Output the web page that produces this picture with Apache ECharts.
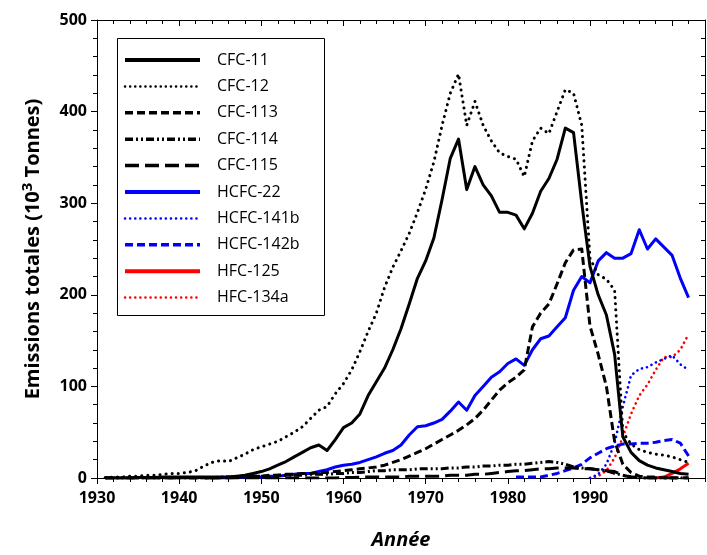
<!DOCTYPE html>
<html><head><meta charset="utf-8">
<script src="https://cdn.jsdelivr.net/npm/echarts@6/dist/echarts.min.js"></script>
<style>html,body{margin:0;padding:0;background:#fff}#c{width:707px;height:555px}</style>
</head><body><div id="c"></div>
<script>
const _ = null;
// Years (x categories), 1931..2002
const years = [
 1931,1932,1933,1934,1935,1936,1937,1938,1939,1940,
 1941,1942,1943,1944,1945,1946,1947,1948,1949,1950,
 1951,1952,1953,1954,1955,1956,1957,1958,1959,1960,
 1961,1962,1963,1964,1965,1966,1967,1968,1969,1970,
 1971,1972,1973,1974,1975,1976,1977,1978,1979,1980,
 1981,1982,1983,1984,1985,1986,1987,1988,1989,1990,
 1991,1992,1993,1994,1995,1996,1997,1998,1999,2000,
 2001,2002];

const cfc11 = [
 0,0,0,0,0.5,0.5,0.5,1,1,1,
 1,1,1,1,1,1,2,3,5,7,
 10,14,18,23,28,33,36,30,42,55,
 60,70,90,105,120,140,163,190,218,237,
 262,304,349,370,315,340,320,308,290,290,
 287,272,289,313,327,348,382,377,300,231,
 200,178,135,45,28,19,14,11,9,7,
 5,4];
const cfc12 = [
 0.5,1,1,2,2,3,3,4,5,5,
 6,8,13,17,19,18,22,26,31,34,
 37,40,45,50,56,65,74,78,92,103,
 118,138,160,180,208,230,248,267,290,315,
 345,385,420,441,385,411,385,368,355,351,
 348,329,368,382,376,400,424,420,385,240,
 222,217,205,50,37,31,28,26,25,23,
 20,17];
const cfc113 = [
 0,0,0,0,0,0,0,0,0,0,
 0,0,0,0,0,1,1,1,2,2,
 3,3,4,4,5,5,6,6,7,8,
 9,10,11,12,14,17,20,24,28,32,
 37,42,47,52,58,65,74,85,96,104,
 110,118,165,180,190,212,235,249,250,166,
 135,100,40,15,6,2,1,1,0,0,
 0,0];
const cfc114 = [
 0,0,0,0,0,0,0,0,0,0,
 0,0,0,0,1,1,1,2,2,2,
 2,3,3,3,3,4,4,4,5,5,
 6,6,7,8,8,9,9,9,10,10,
 10,10,11,11,12,12,13,13,14,14,
 15,15,16,17,18,17,15,12,11,10,
 9,8,5,3,1,0,0,0,0,0,
 0,0];
const cfc115 = [
 0,0,0,0,0,0,0,0,0,0,
 0,0,0,0,0,0,0,0,0,0,
 0,0,0,0,0,0,0,0,0,0.5,
 0.5,1,1,1,1,1,1,2,2,2,
 2,2,3,3,3,4,4,5,6,7,
 8,8,9,10,10,11,11,11,10,10,
 9,8,7,3,1,0,0,0,0,0,
 0,0];
const hcfc22 = [
 _,_,_,_,_,_,_,_,_,_,
 _,_,0,0,0,0,0.5,0.5,1,1,
 2,2,3,4,5,5,7,9,12,14,
 15,17,20,23,27,30,36,47,56,57,
 60,64,73,83,74,90,100,110,116,125,
 130,123,140,152,155,165,175,205,220,213,
 237,246,240,240,245,271,250,261,252,243,
 218,197];
const hcfc141b = [
 _,_,_,_,_,_,_,_,_,_,
 _,_,_,_,_,_,_,_,_,_,
 _,_,_,_,_,_,_,_,_,_,
 _,_,_,_,_,_,_,_,_,_,
 _,_,_,_,_,_,_,_,_,_,
 _,_,_,_,_,_,_,_,_,0,
 4,15,38,78,112,119,121,126,130,134,
 124,118];
const hcfc142b = [
 _,_,_,_,_,_,_,_,_,_,
 _,_,_,_,_,_,_,_,_,_,
 _,_,_,_,_,_,_,_,_,_,
 _,_,_,_,_,_,_,_,_,_,
 _,_,_,_,_,_,_,_,_,_,
 1,1,1,1,3,5,8,11,15,22,
 27,32,35,37,37,38,38,39,41,42,
 38,24];
const hfc125 = [
 _,_,_,_,_,_,_,_,_,_,
 _,_,_,_,_,_,_,_,_,_,
 _,_,_,_,_,_,_,_,_,_,
 _,_,_,_,_,_,_,_,_,_,
 _,_,_,_,_,_,_,_,_,_,
 _,_,_,_,_,_,_,_,_,_,
 _,_,_,_,_,_,0,0,1,5,
 10,16];
const hfc134a = [
 _,_,_,_,_,_,_,_,_,_,
 _,_,_,_,_,_,_,_,_,_,
 _,_,_,_,_,_,_,_,_,_,
 _,_,_,_,_,_,_,_,_,_,
 _,_,_,_,_,_,_,_,_,_,
 _,_,_,_,_,_,_,_,_,0,
 2,8,22,45,70,90,102,118,132,132,
 140,157];

const xTicks = [1930,1940,1950,1960,1970,1980,1990,2000];

const FONT = 'Open Sans';
const BLACK = '#000000', BLUE = '#0000ff', RED = '#ff0000';
const DOT = [0.1, 6], DOTS = [0.1, 5], DASH = [8, 4], LDASH = [14, 6], DDD = [8, 3, 2, 3, 2, 3];

const defs = [
 {name:'CFC-11',    values:cfc11,    color:BLACK, width:3,   dash:'solid', cap:'butt',  lw:4},
 {name:'CFC-12',    values:cfc12,    color:BLACK, width:3,   dash:DOT,     cap:'round', lw:2.5, ldash:[0.1,5]},
 {name:'CFC-113',   values:cfc113,   color:BLACK, width:3,   dash:DASH,    cap:'butt',  lw:3.5},
 {name:'CFC-114',   values:cfc114,   color:BLACK, width:3,   dash:DDD,     cap:'butt',  lw:3.5},
 {name:'CFC-115',   values:cfc115,   color:BLACK, width:3,   dash:LDASH,   cap:'butt',  lw:3.5},
 {name:'HCFC-22',   values:hcfc22,   color:BLUE,  width:3,   dash:'solid', cap:'butt',  lw:4},
 {name:'HCFC-141b', values:hcfc141b, color:BLUE,  width:2.6, dash:DOTS,    cap:'round', lw:2.5, ldash:[0.1,5]},
 {name:'HCFC-142b', values:hcfc142b, color:BLUE,  width:3,   dash:DASH,    cap:'butt',  lw:3.5},
 {name:'HFC-125',   values:hfc125,   color:RED,   width:3,   dash:'solid', cap:'butt',  lw:4},
 {name:'HFC-134a',  values:hfc134a,  color:RED,   width:2.6, dash:DOTS,    cap:'round', lw:2.5, ldash:[0.1,5]}
];

const chart = echarts.init(document.getElementById('c'), null, {renderer:'canvas'});

const lblStyle = {fontFamily:FONT, fontWeight:'bold', fontSize:16, color:'#000'};
const lineBlack = {color:'#000', width:1};
const plain = v => String(v);

const option = {
  animation:false,
  backgroundColor:'#fff',
  grid:{left:97, right:2, top:20, bottom:76, containLabel:false},
  graphic:[{type:'rect', z:3, shape:{x:117.5, y:38.5, width:207, height:277},
            style:{fill:'#fff', stroke:'#000', lineWidth:1}}],
  legend:{
    orient:'vertical', left:123, top:52, padding:0, z:5,
    itemWidth:75, itemHeight:14, itemGap:10.4,
    textStyle:{fontFamily:FONT, fontSize:16, color:'#000', padding:[0,0,0,12]},
    itemStyle:{opacity:0},
    data: defs.map(d => ({name:d.name, lineStyle:{color:d.color, width:d.lw, type:d.ldash || d.dash, cap:d.cap, opacity:1}}))
  },
  xAxis:[
    {type:'value', min:1930, max:2004, interval:10, position:'bottom',
     axisLine:{show:true, onZero:false, lineStyle:lineBlack},
     axisTick:{show:true, inside:false, length:6, lineStyle:lineBlack, customValues:xTicks},
     splitLine:{show:false},
     axisLabel:Object.assign({margin:12, showMaxLabel:false, customValues:xTicks, formatter:plain}, lblStyle),
     name:'Année', nameLocation:'middle', nameGap:52,
     nameTextStyle:{fontFamily:FONT, fontSize:20, fontWeight:'bold', fontStyle:'italic', color:'#000'}},
    {type:'value', min:1930, max:2004, interval:2, position:'bottom',
     axisLine:{show:false, onZero:false}, axisLabel:{show:false}, splitLine:{show:false},
     axisTick:{show:true, inside:false, length:4, lineStyle:lineBlack}},
    {type:'value', min:1930, max:2004, interval:10, position:'top',
     axisLine:{show:true, onZero:false, lineStyle:lineBlack}, axisLabel:{show:false}, splitLine:{show:false},
     axisTick:{show:true, inside:true, length:6, lineStyle:lineBlack, customValues:xTicks}},
    {type:'value', min:1930, max:2004, interval:2, position:'top',
     axisLine:{show:false, onZero:false}, axisLabel:{show:false}, splitLine:{show:false},
     axisTick:{show:true, inside:true, length:4, lineStyle:lineBlack}}
  ],
  yAxis:[
    {type:'value', min:0, max:500, interval:100, position:'left',
     axisLine:{show:true, onZero:false, lineStyle:lineBlack},
     axisTick:{show:true, inside:false, length:6, lineStyle:lineBlack},
     minorTick:{show:true, splitNumber:5, length:4, lineStyle:lineBlack},
     splitLine:{show:false},
     axisLabel:Object.assign({margin:10, formatter:plain}, lblStyle),
     name:'{a|Emissions totales (10}{s|3}{a| Tonnes)}', nameLocation:'middle', nameGap:50, nameRotate:90,
     nameTextStyle:{color:'#000', rich:{
        a:{fontFamily:FONT, fontSize:20, fontWeight:'bold', color:'#000'},
        s:{fontFamily:FONT, fontSize:15, fontWeight:'bold', color:'#000', padding:[0,0,12,0]}}}},
    {type:'value', min:0, max:500, interval:100, position:'right',
     axisLine:{show:true, onZero:false, lineStyle:lineBlack},
     axisTick:{show:true, inside:true, length:6, lineStyle:lineBlack},
     minorTick:{show:true, splitNumber:5, length:4, lineStyle:lineBlack},
     splitLine:{show:false}, axisLabel:{show:false}}
  ],
  series: defs.map((d, k) => ({
    name:d.name, type:'line', xAxisIndex:0, yAxisIndex:0,
    data: years.map((y, i) => [y, d.values[i]]),
    symbol:'none', showSymbol:false, connectNulls:false, z:2 + (10 - k) * 0.01,
    lineStyle:{color:d.color, width:d.width, type:d.dash, cap:d.cap, join:'round'},
    itemStyle:{color:d.color},
    emphasis:{disabled:true}
  }))
};
chart.setOption(option);
</script></body></html>
